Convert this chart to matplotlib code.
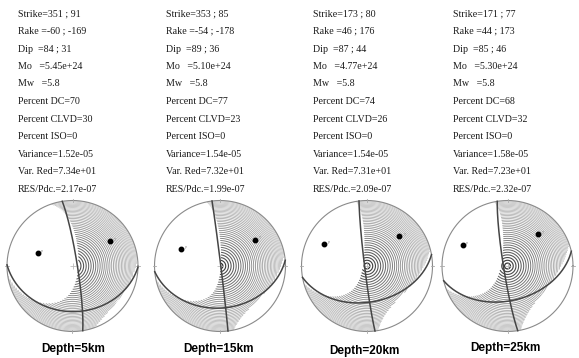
import matplotlib
matplotlib.use("Agg")
import matplotlib.pyplot as plt
import numpy as np

# focal mechanism solutions for the four trial depths
depth = [5, 15, 20, 25]
strike1 = [351, 353, 173, 171]
strike2 = [91, 85, 80, 77]
rake1 = [-60, -54, 46, 44]
rake2 = [-169, -178, 176, 173]
dip1 = [84, 89, 87, 85]
dip2 = [31, 36, 44, 46]
mo = [5.45e24, 5.10e24, 4.77e24, 5.30e24]
mw = [5.8, 5.8, 5.8, 5.8]
pct_dc = [70, 77, 74, 68]
pct_clvd = [30, 23, 26, 32]
pct_iso = [0, 0, 0, 0]
variance = [1.52e-05, 1.54e-05, 1.54e-05, 1.58e-05]
var_red = [73.4, 73.2, 73.1, 72.3]
res_pdc = [2.17e-07, 1.99e-07, 2.09e-07, 2.32e-07]

W, H = 579, 358
ball_cx = [72.5, 220, 367, 507.5]
ball_cy = 266
ball_r = 65.5
text_x = [18, 166, 313, 453]
depth_x = [73, 218, 364, 505]
depth_y = [349, 349, 351, 348]


def plane_vectors(strike, dip, rake):
    s, d, r = np.radians([strike, dip, rake])
    n = np.array([-np.sin(d) * np.sin(s), np.sin(d) * np.cos(s), -np.cos(d)])
    u = np.array([np.cos(r) * np.cos(s) + np.sin(r) * np.cos(d) * np.sin(s),
                  np.cos(r) * np.sin(s) - np.sin(r) * np.cos(d) * np.cos(s),
                  -np.sin(r) * np.sin(d)])
    return n, u


def project(v):
    # lower hemisphere, equal area; v = (north, east, down)
    v = np.asarray(v, dtype=float)
    if v[2] < 0:
        v = -v
    inc = np.arccos(np.clip(v[2], -1, 1))
    az = np.arctan2(v[1], v[0])
    r = np.sqrt(2) * np.sin(inc / 2)
    return r * np.sin(az), r * np.cos(az)


def great_circle(strike, dip):
    s, d = np.radians([strike, dip])
    t = np.linspace(0, np.pi, 200)
    sv = np.array([np.cos(s), np.sin(s), 0.0])
    dv = np.array([-np.sin(s) * np.cos(d), np.cos(s) * np.cos(d), np.sin(d)])
    pts = np.outer(np.cos(t), sv) + np.outer(np.sin(t), dv)
    xy = np.array([project(p) for p in pts])
    return xy[:, 0], xy[:, 1]


def draw_ball(ax, k):
    n, u = plane_vectors(strike1[k], dip1[k], rake1[k])
    t_ax = (n + u) / np.linalg.norm(n + u)
    p_ax = (n - u) / np.linalg.norm(n - u)
    b_ax = np.cross(n, u)
    # DC part plus a CLVD with its major dipole along B
    e = 0.85 * (1 - pct_dc[k] / 100)
    lam_t, lam_b, lam_p = 1 - e, e, -1.0
    M = (lam_t * np.outer(t_ax, t_ax) + lam_b * np.outer(b_ax, b_ax)
         + lam_p * np.outer(p_ax, p_ax))

    g = np.linspace(-1, 1, 700)
    X, Y = np.meshgrid(g, g)
    R = np.hypot(X, Y)
    inc = 2 * np.arcsin(np.clip(R / np.sqrt(2), 0, 1))
    az = np.arctan2(X, Y)
    gam = np.stack([np.sin(inc) * np.cos(az), np.sin(inc) * np.sin(az), np.cos(inc)])
    amp = np.einsum('i...,ij,j...->...', gam, M, gam)
    Z = np.ma.masked_where((amp <= 0) | (R > 1), R)

    # concentric rings inside the compressional part, tighter towards the rim
    kk = np.arange(1, 38)
    levels = 1.5 * (1 - np.exp(-0.03 * kk))
    frac = levels / levels.max()
    cols = [str(0.05 + 0.68 * fr ** 0.5) for fr in frac]
    lws = 1.0 - 0.55 * frac ** 0.5
    ax.contour(X, Y, Z, levels=levels, colors=cols, linewidths=lws)

    th = np.linspace(0, 2 * np.pi, 400)
    ax.plot(np.cos(th), np.sin(th), color='#8a8a8a', lw=0.8)
    for a in np.radians([0, 90, 180, 270]):
        ax.plot([0.97 * np.cos(a), 1.03 * np.cos(a)], [0.97 * np.sin(a), 1.03 * np.sin(a)],
                color='#aaaaaa', lw=0.6)
    ax.plot([0], [0], marker='+', ms=4, color='#bbbbbb', mew=0.6)

    for st, dp in [(strike1[k], dip1[k]), (strike2[k], dip2[k])]:
        x, y = great_circle(st, dp)
        ax.plot(x, y, color='#454545', lw=1.1)

    for vec, lab in [(p_ax, 'P'), (t_ax, 'T')]:
        x, y = project(vec)
        ax.plot(x, y, 'o', color='black', ms=3.2)
        ax.text(x + 0.05, y + 0.02, lab, fontsize=2.5, color='#888888', va='center')

    ax.set_xlim(-1.05, 1.05)
    ax.set_ylim(-1.05, 1.05)
    ax.axis('off')


fig = plt.figure(figsize=(W / 100, H / 100), dpi=100)
fig.patch.set_facecolor('white')

for k in range(4):
    half = ball_r * 1.05
    ax = fig.add_axes([(ball_cx[k] - half) / W, (H - ball_cy - half) / H,
                       2 * half / W, 2 * half / H])
    draw_ball(ax, k)

    lines = [
        'Strike=%d ; %d' % (strike1[k], strike2[k]),
        'Rake =%d ; %d' % (rake1[k], rake2[k]),
        'Dip  =%d ; %d' % (dip1[k], dip2[k]),
        'Mo   =%.2e' % mo[k],
        'Mw   =%.1f' % mw[k],
        'Percent DC=%d' % pct_dc[k],
        'Percent CLVD=%d' % pct_clvd[k],
        'Percent ISO=%d' % pct_iso[k],
        'Variance=%.2e' % variance[k],
        'Var. Red=%.2e' % var_red[k],
        'RES/Pdc.=%.2e' % res_pdc[k],
    ]
    for j, s in enumerate(lines):
        fig.text(text_x[k] / W, 1 - (14 + 17.5 * j) / H, s, fontsize=7.2,
                 family='Liberation Serif', color='#1a1a1a', va='center', ha='left')

    fig.text(depth_x[k] / W, 1 - depth_y[k] / H, 'Depth=%dkm' % depth[k],
             fontsize=8.5, family='Liberation Sans', weight='bold',
             ha='center', va='center')

fig.savefig('out.png', dpi=100)
